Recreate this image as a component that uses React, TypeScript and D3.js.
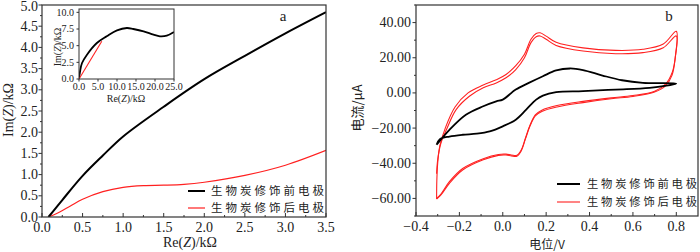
import React from "react";
import * as d3 from "d3";

// ---------- Panel a: Nyquist ----------
const nyqTicksX = [0, 0.5, 1.0, 1.5, 2.0, 2.5, 3.0, 3.5];
const nyqTicksY = [0, 0.5, 1.0, 1.5, 2.0, 2.5, 3.0, 3.5, 4.0, 4.5, 5.0];
const beforeRe = [0.08, 0.25, 0.5, 0.75, 1.0, 1.5, 2.0, 2.5, 3.0, 3.5];
const beforeIm = [0, 0.4, 0.97, 1.45, 1.9, 2.6, 3.25, 3.8, 4.33, 4.83];
const afterRe = [0.08, 0.2, 0.35, 0.5, 0.75, 1.0, 1.25, 1.5, 1.75, 2.0, 2.5, 3.0, 3.5];
const afterIm = [0, 0.1, 0.26, 0.42, 0.6, 0.7, 0.74, 0.75, 0.77, 0.82, 0.98, 1.22, 1.57];

// inset
const insetTicksX = [0, 5, 10, 15, 20, 25];
const insetTicksY = [0, 2.5, 5.0, 7.5, 10.0];
const insetBeforeRe = [0, 0.3, 0.8, 2.1, 4.7, 7.3, 10, 12.6, 14.3, 17, 19.6, 21.3, 23.1, 25];
const insetBeforeIm = [0, 1.2, 2.4, 3.65, 5.4, 6.4, 7.3, 7.65, 7.5, 7.15, 6.65, 6.4, 6.5, 7.05];
const insetAfterRe = [0, 6.0];
const insetAfterIm = [0, 5.65];

// ---------- Panel b: CV ----------
const cvTicksX = [-0.4, -0.2, 0.0, 0.2, 0.4, 0.6, 0.8];
const cvTicksY = [-60, -40, -20, 0, 20, 40];
const blackE = [-0.305, -0.246, -0.17, -0.09, -0.03, 0, 0.06, 0.12, 0.185, 0.246, 0.31, 0.37, 0.46, 0.55, 0.646, 0.8,
  0.677, 0.52, 0.37, 0.246, 0.185, 0.154, 0.108, 0.06, 0, -0.06, -0.12, -0.185, -0.246, -0.29, -0.305];
const blackI = [-29.5, -21, -12.4, -7.6, -4.8, -3.8, 1.9, 5.7, 9.5, 12.8, 13.9, 13, 9.9, 7.2, 5.7, 5.3,
  2.9, 1.9, 1.0, 0.4, -1.5, -3.8, -9.5, -15.2, -19, -21.9, -23.2, -23.8, -24.8, -26.3, -29.5];

const red1E = [-0.305, -0.3, -0.285, -0.26, -0.215, -0.154, -0.09, -0.03, 0.015, 0.06, 0.1, 0.13, 0.154, 0.172, 0.2, 0.246, 0.37, 0.52, 0.646, 0.74, 0.8,
  0.795, 0.78, 0.75, 0.7, 0.6, 0.5, 0.37, 0.25, 0.18, 0.15, 0.125, 0.105, 0.085, 0.065, 0.04, 0.015, -0.02, -0.09, -0.185, -0.246, -0.285, -0.305];
const red1I = [-46, -38, -28.6, -21, -9.5, -1.9, 2.9, 5.7, 8.6, 13.3, 20, 28.6, 32, 32.4, 30.5, 27, 23.8, 22.3, 22.9, 25.7, 32.4,
  20, 10, 4, 0.5, -2, -3.3, -5.5, -8, -10.5, -13, -19, -26, -33, -36, -35.8, -35.3, -35.5, -38, -43.8, -51.4, -58, -60.4];
const red2E = [-0.305, -0.304, -0.3, -0.29, -0.265, -0.22, -0.16, -0.09, -0.03, 0.015, 0.06, 0.1, 0.13, 0.154, 0.172, 0.2, 0.246, 0.37, 0.52, 0.646, 0.74, 0.8,
  0.797, 0.782, 0.75, 0.7, 0.6, 0.5, 0.37, 0.25, 0.18, 0.15, 0.125, 0.105, 0.085, 0.065, 0.04, 0.015, -0.02, -0.09, -0.185, -0.246, -0.285, -0.305];
const red2I = [-60.4, -50, -40, -30, -20, -8, 0, 4.5, 7.5, 10.5, 15.5, 22, 30.5, 33.8, 34.2, 32.3, 28.8, 25.6, 24.2, 24.8, 27.8, 35,
  22, 12, 5, 1, -1.5, -2.8, -4.8, -7.2, -9.8, -12.5, -18.5, -25.5, -32.5, -35.5, -35.3, -34.8, -35, -37.4, -43, -50.5, -57.5, -60];

const legendLabels = ["生物炭修饰前电极", "生物炭修饰后电极"];
const seriesColors = ["#000000", "#ff2020"];

const serif = "'Liberation Serif','Times New Roman',serif";
const cjk = "'Noto Sans CJK SC','Noto Sans CJK JP',sans-serif";

type Scale = d3.ScaleLinear<number, number>;

function pathOf(xs: number[], ys: number[], sx: Scale, sy: Scale) {
  const idx = xs.map((_, i) => i);
  return d3
    .line<number>()
    .x((i) => sx(xs[i]))
    .y((i) => sy(ys[i]))
    .curve(d3.curveCatmullRom.alpha(0.5))(idx) || "";
}

const minus = (s: string) => s.replace("-", "\u2212");

export default function App() {
  // panel a
  const xA = d3.scaleLinear().domain([0, 3.5]).range([42, 326]);
  const yA = d3.scaleLinear().domain([0, 5]).range([217, 5]);
  // inset
  const xI = d3.scaleLinear().domain([0, 25]).range([79, 174]);
  const yI = d3.scaleLinear().domain([0, 10.5]).range([79, 9]);
  // panel b
  const xB = d3.scaleLinear().domain([-0.4, 0.9]).range([416, 698]);
  const yB = d3.scaleLinear().domain([-70, 50]).range([216, 5]);

  const minorA_x = d3.range(0.25, 3.5, 0.5);
  const minorA_y = d3.range(0.25, 5, 0.5);
  const minorB_x = d3.range(-0.3, 0.9, 0.2);
  const minorB_y = d3.range(-70, 51, 20);

  return (
    <svg width={700} height={252} style={{ position: "absolute", left: 0, top: 0, display: "block", background: "#fff" }}>
      <defs>
        <clipPath id="clipA"><rect x={42} y={5} width={284} height={212} /></clipPath>
        <clipPath id="clipI"><rect x={79} y={9} width={95} height={70} /></clipPath>
        <clipPath id="clipB"><rect x={416} y={5} width={282} height={211} /></clipPath>
      </defs>

      {/* ===== Panel a ===== */}
      <g clipPath="url(#clipA)" fill="none">
        <path d={pathOf(afterRe, afterIm, xA, yA)} stroke={seriesColors[1]} strokeWidth={1.2} />
        <path d={pathOf(beforeRe, beforeIm, xA, yA)} stroke={seriesColors[0]} strokeWidth={2} />
      </g>
      <rect x={42} y={5} width={284} height={212} fill="none" stroke="#333" strokeWidth={1.2} />
      {nyqTicksX.map((v) => (
        <g key={"ax" + v}>
          <line x1={xA(v)} x2={xA(v)} y1={217} y2={213} stroke="#333" />
          <text x={xA(v)} y={232} textAnchor="middle" fontFamily={serif} fontSize={14} fill="#222">{v.toFixed(1)}</text>
        </g>
      ))}
      {minorA_x.map((v) => (
        <line key={"amx" + v} x1={xA(v)} x2={xA(v)} y1={217} y2={215} stroke="#333" />
      ))}
      {nyqTicksY.map((v) => (
        <g key={"ay" + v}>
          <line x1={42} x2={38.5} y1={yA(v)} y2={yA(v)} stroke="#333" />
          <text x={38} y={Math.max(yA(v) + 4.5, 11)} textAnchor="end" fontFamily={serif} fontSize={14} fill="#222">{v.toFixed(1)}</text>
        </g>
      ))}
      {minorA_y.map((v) => (
        <line key={"amy" + v} x1={42} x2={40} y1={yA(v)} y2={yA(v)} stroke="#333" />
      ))}
      <text transform="translate(13,110) rotate(-90)" textAnchor="middle" fontFamily={serif} fontSize={14} fill="#222">
        Im(<tspan fontStyle="italic">Z</tspan>)/kΩ
      </text>
      <text x={190} y={247} textAnchor="middle" fontFamily={serif} fontSize={14} fill="#222">
        Re(<tspan fontStyle="italic">Z</tspan>)/kΩ
      </text>
      <text x={283} y={21} textAnchor="middle" fontFamily={serif} fontSize={15} fill="#222">a</text>

      {/* legend a */}
      {legendLabels.map((t, i) => (
        <g key={"la" + i}>
          <line x1={188} x2={205} y1={191 + i * 17} y2={191 + i * 17} stroke={seriesColors[i]} strokeWidth={i === 0 ? 2 : 1.2} />
          <text x={211} y={195 + i * 17} fontFamily={cjk} fontSize={11.5} letterSpacing={3} fill="#222">{t}</text>
        </g>
      ))}

      {/* inset */}
      <rect x={79} y={9} width={95} height={70} fill="#fff" />
      <g clipPath="url(#clipI)" fill="none">
        <path d={pathOf(insetBeforeRe, insetBeforeIm, xI, yI)} stroke={seriesColors[0]} strokeWidth={1.8} />
        <path d={pathOf(insetAfterRe, insetAfterIm, xI, yI)} stroke={seriesColors[1]} strokeWidth={1.1} />
      </g>
      <rect x={79} y={9} width={95} height={70} fill="none" stroke="#333" strokeWidth={1} />
      {insetTicksX.map((v) => (
        <g key={"ix" + v}>
          <line x1={xI(v)} x2={xI(v)} y1={79} y2={81.5} stroke="#333" />
          <text x={xI(v)} y={90} textAnchor="middle" fontFamily={serif} fontSize={10} fill="#222">{v.toFixed(1)}</text>
        </g>
      ))}
      {insetTicksY.map((v) => (
        <g key={"iy" + v}>
          <line x1={79} x2={76.5} y1={yI(v)} y2={yI(v)} stroke="#333" />
          <text x={74} y={yI(v) + 3.3} textAnchor="end" fontFamily={serif} fontSize={10} fill="#222">{v.toFixed(1)}</text>
        </g>
      ))}
      <text transform="translate(61,47) rotate(-90)" textAnchor="middle" fontFamily={serif} fontSize={10} fill="#222">
        Im(<tspan fontStyle="italic">Z</tspan>)/kΩ
      </text>
      <text x={126} y={102} textAnchor="middle" fontFamily={serif} fontSize={10} fill="#222">
        Re(<tspan fontStyle="italic">Z</tspan>)/kΩ
      </text>

      {/* ===== Panel b ===== */}
      <g clipPath="url(#clipB)" fill="none">
        <path d={pathOf(red2E, red2I, xB, yB)} stroke={seriesColors[1]} strokeWidth={1.1} />
        <path d={pathOf(red1E, red1I, xB, yB)} stroke={seriesColors[1]} strokeWidth={1.1} />
        <path d={pathOf(blackE, blackI, xB, yB)} stroke={seriesColors[0]} strokeWidth={1.8} />
      </g>
      <rect x={416} y={5} width={282} height={211} fill="none" stroke="#333" strokeWidth={1.2} />
      {cvTicksX.map((v) => (
        <g key={"bx" + v}>
          <line x1={xB(v)} x2={xB(v)} y1={216} y2={212} stroke="#333" />
          <text x={xB(v)} y={231} textAnchor="middle" fontFamily={serif} fontSize={14} fill="#222">{minus(v.toFixed(1))}</text>
        </g>
      ))}
      {minorB_x.map((v) => (
        <line key={"bmx" + v} x1={xB(v)} x2={xB(v)} y1={216} y2={214} stroke="#333" />
      ))}
      {cvTicksY.map((v) => (
        <g key={"by" + v}>
          <line x1={416} x2={412.5} y1={yB(v)} y2={yB(v)} stroke="#333" />
          <text x={411} y={yB(v) + 4.5} textAnchor="end" fontFamily={serif} fontSize={14} fill="#222">{minus(v.toFixed(2))}</text>
        </g>
      ))}
      {minorB_y.map((v) => (
        <line key={"bmy" + v} x1={416} x2={414} y1={yB(v)} y2={yB(v)} stroke="#333" />
      ))}
      <text transform="translate(362,108) rotate(-90)" textAnchor="middle" fontFamily={cjk} fontSize={13} fill="#222">
        电流/μA
      </text>
      <text x={547} y={248.5} textAnchor="middle" fontFamily={cjk} fontSize={12} fill="#222">电位/V</text>
      <text x={669} y={21} textAnchor="middle" fontFamily={serif} fontSize={15} fill="#222">b</text>

      {legendLabels.map((t, i) => (
        <g key={"lb" + i}>
          <line x1={557} x2={580} y1={184 + i * 18} y2={184 + i * 18} stroke={seriesColors[i]} strokeWidth={i === 0 ? 2 : 1.1} />
          <text x={587} y={188 + i * 18} fontFamily={cjk} fontSize={11.3} letterSpacing={2.8} fill="#222">{t}</text>
        </g>
      ))}
    </svg>
  );
}
